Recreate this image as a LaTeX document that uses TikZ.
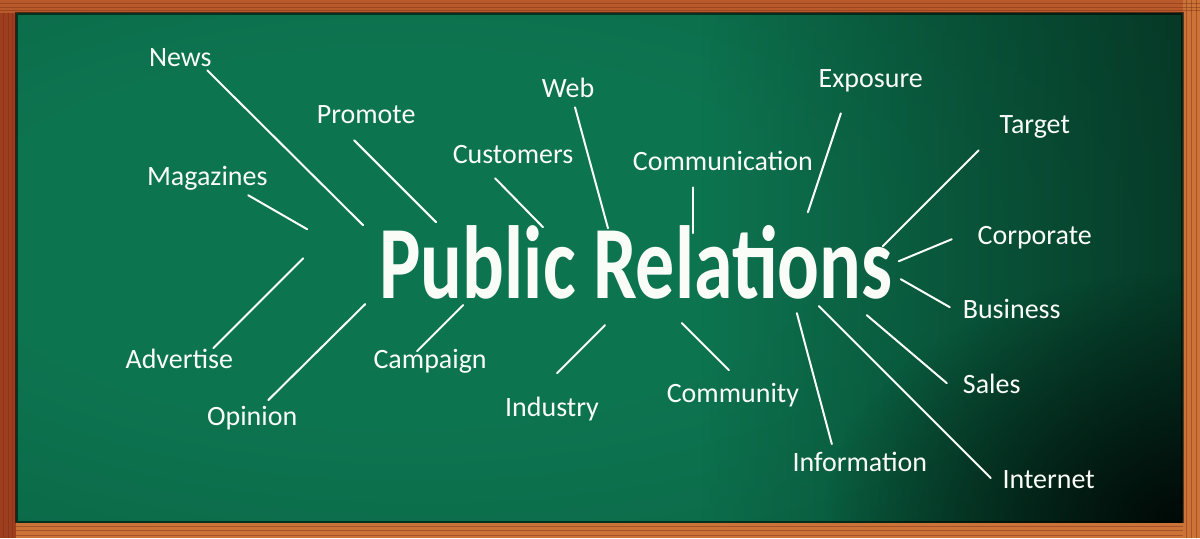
\documentclass[tikz,border=0pt]{standalone}
\usepackage{fontspec}
\setmainfont{Carlito}
\newfontfamily\chalkfont{Carlito}
\newfontfamily\headfont{Carlito}[FakeStretch=0.75]
\usepackage{tikz}
\usetikzlibrary{fadings}
\usepackage{xcolor}
\definecolor{woodtop}{RGB}{184,90,42}
\definecolor{woodside}{RGB}{158,62,30}
\definecolor{woodlight}{RGB}{204,116,56}
\definecolor{woodgrain}{RGB}{120,46,20}
\definecolor{boardlight}{RGB}{13,116,80}
\definecolor{boardmid}{RGB}{10,101,69}
\definecolor{boarddark}{RGB}{5,66,44}
\definecolor{chalk}{RGB}{250,252,248}

\pgfdeclareradialshading{boardglow}{\pgfpoint{-12bp}{4bp}}{%
  color(0bp)=(boardlight); color(18bp)=(boardlight);
  color(42bp)=(boardmid); color(70bp)=(boarddark)}
\tikzfading[name=cornerfade, inner color=transparent!0, outer color=transparent!100]
\tikzfading[name=rightfade, left color=transparent!100, right color=transparent!0]

\begin{document}
\begin{tikzpicture}[x=0.5pt, y=-0.5pt,
  word/.style={font=\chalkfont\fontsize{14}{16}\selectfont, text=chalk,
               anchor=base, inner sep=0pt},
  headline/.style={font=\headfont\bfseries\fontsize{52}{56}\selectfont,
                   text=chalk, anchor=base, inner sep=0pt},
  chalkline/.style={draw=chalk, line width=1pt, line cap=round},
  grain/.style={draw=woodgrain, line width=0.4pt, opacity=0.45}
]

% wooden frame
\fill[woodtop] (0,0) rectangle (1200,538);
\fill[woodside] (0,13) rectangle (16,538);
\fill[woodlight] (1183,0) rectangle (1200,538);
\fill[woodlight] (16,522) rectangle (1183,538);
\foreach \y in {3,7,10} \draw[grain] (0,\y) -- (1200,\y);
\foreach \y in {526,530,535} \draw[grain] (16,\y) -- (1183,\y);
\foreach \x in {3,8,12} \draw[grain] (\x,13) -- (\x,538);
\foreach \x in {1187,1192,1197} \draw[grain] (\x,0) -- (\x,538);

% chalkboard
\shade[shading=boardglow] (16,13) rectangle (1183,522);
\begin{scope}
  \clip (16,13) rectangle (1183,522);
  \fill[black, opacity=0.45, path fading=rightfade] (700,13) rectangle (1183,522);
  \fill[black, opacity=0.85, path fading=cornerfade] (1183,522) ellipse (360 and 250);
\end{scope}
\draw[black, opacity=0.55, line width=1.2pt] (16,13) rectangle (1183,522);

% title
\node[headline] (pr) at (636,298) {Public Relations};

% upper labels
\node[word] (news) at (180,66) {News};
\node[word] (promote) at (366,123) {Promote};
\node[word] (web) at (568,97) {Web};
\node[word] (customers) at (513,163) {Customers};
\node[word] (communication) at (723,170) {Communication};
\node[word] (exposure) at (871,87) {Exposure};
\node[word] (target) at (1035,133) {Target};
\node[word] (magazines) at (207,185) {Magazines};

% right labels
\node[word] (corporate) at (1035,244) {Corporate};
\node[word] (business) at (1012,318) {Business};
\node[word] (sales) at (992,393) {Sales};
\node[word] (internet) at (1049,488) {Internet};

% lower labels
\node[word] (information) at (860,471) {Information};
\node[word] (community) at (733,402) {Community};
\node[word] (industry) at (552,416) {Industry};
\node[word] (campaign) at (430,368) {Campaign};
\node[word] (opinion) at (252,425) {Opinion};
\node[word] (advertise) at (179,368) {Advertise};

% chalk stroke ends
\coordinate (newsA) at (207,70);          \coordinate (newsB) at (363,225);
\coordinate (promoteA) at (354,140);      \coordinate (promoteB) at (436,222);
\coordinate (customersA) at (495,178);    \coordinate (customersB) at (543,227);
\coordinate (webA) at (575,107);          \coordinate (webB) at (608,228);
\coordinate (commA) at (693,187);         \coordinate (commB) at (693,233);
\coordinate (exposureA) at (841,113);     \coordinate (exposureB) at (808,212);
\coordinate (targetA) at (979,150);       \coordinate (targetB) at (883,246);
\coordinate (corporateA) at (952,239);    \coordinate (corporateB) at (899,261);
\coordinate (businessA) at (950,307);     \coordinate (businessB) at (901,279);
\coordinate (salesA) at (947,383);        \coordinate (salesB) at (867,315);
\coordinate (internetA) at (991,478);     \coordinate (internetB) at (819,306);
\coordinate (infoA) at (832,444);         \coordinate (infoB) at (797,313);
\coordinate (communityA) at (729,370);    \coordinate (communityB) at (682,323);
\coordinate (industryA) at (557,373);     \coordinate (industryB) at (605,325);
\coordinate (campaignA) at (417,351);     \coordinate (campaignB) at (463,305);
\coordinate (opinionA) at (268,400);      \coordinate (opinionB) at (365,304);
\coordinate (advertiseA) at (213,348);    \coordinate (advertiseB) at (303,258);
\coordinate (magazinesA) at (248,195);    \coordinate (magazinesB) at (307,229);

% chalk strokes
\draw[chalkline] (newsA) -- (newsB);
\draw[chalkline] (promoteA) -- (promoteB);
\draw[chalkline] (customersA) -- (customersB);
\draw[chalkline] (webA) -- (webB);
\draw[chalkline] (commA) -- (commB);
\draw[chalkline] (exposureA) -- (exposureB);
\draw[chalkline] (targetA) -- (targetB);
\draw[chalkline] (corporateA) -- (corporateB);
\draw[chalkline] (businessA) -- (businessB);
\draw[chalkline] (salesA) -- (salesB);
\draw[chalkline] (internetA) -- (internetB);
\draw[chalkline] (infoA) -- (infoB);
\draw[chalkline] (communityA) -- (communityB);
\draw[chalkline] (industryA) -- (industryB);
\draw[chalkline] (campaignA) -- (campaignB);
\draw[chalkline] (opinionA) -- (opinionB);
\draw[chalkline] (advertiseA) -- (advertiseB);
\draw[chalkline] (magazinesA) -- (magazinesB);

\end{tikzpicture}
\end{document}
